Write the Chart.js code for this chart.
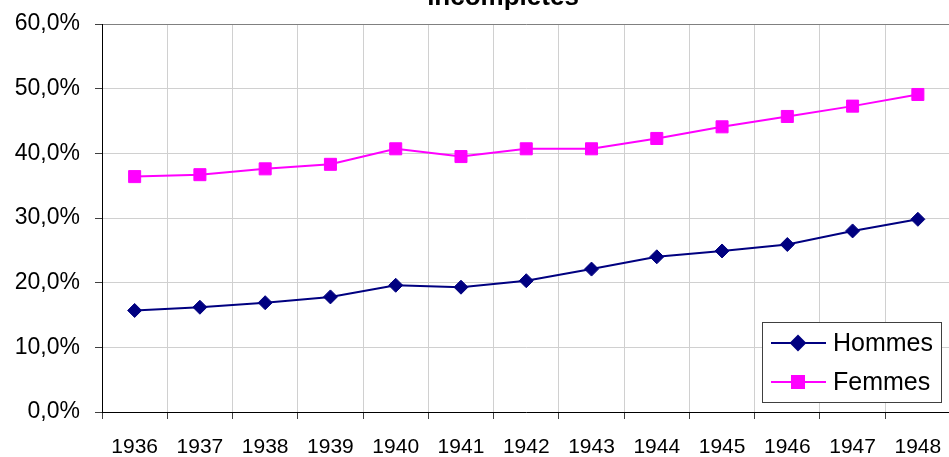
<!DOCTYPE html>
<html>
<head>
<meta charset="utf-8">
<script src="https://cdn.jsdelivr.net/npm/chart.js@4"></script>
<style>
  html, body { margin: 0; padding: 0; background: #fff; overflow: hidden; }
  #wrap { width: 960px; height: 457px; }
</style>
</head>
<body>
<div id="wrap"><canvas id="chart"></canvas></div>
<script>
// data
const years = ['1936', '1937', '1938', '1939', '1940', '1941', '1942', '1943', '1944', '1945', '1946', '1947', '1948'];
const hommes = [15.7, 16.2, 16.9, 17.8, 19.6, 19.3, 20.3, 22.1, 24.0, 24.9, 25.9, 28.0, 29.8];
const femmes = [36.4, 36.7, 37.6, 38.3, 40.7, 39.5, 40.7, 40.7, 42.3, 44.1, 45.7, 47.3, 49.1];
const titleText = 'incomplètes';

// title sits mostly above the top edge, like in the original
const titlePlugin = {
  id: 'cutTitle',
  afterDraw(chart) {
    const ctx = chart.ctx;
    ctx.save();
    ctx.font = 'bold 26px "Liberation Sans", Arial, sans-serif';
    ctx.fillStyle = '#000';
    ctx.textAlign = 'center';
    ctx.textBaseline = 'alphabetic';
    ctx.fillText(titleText, 503, 5);
    ctx.restore();
  }
};

// boxed legend inside the plot, bottom right
const boxLegend = {
  id: 'boxLegend',
  afterDraw(chart) {
    const ctx = chart.ctx;
    const x0 = 762, y0 = 322, w = 179, h = 80;
    ctx.save();
    ctx.fillStyle = '#fff';
    ctx.fillRect(x0, y0, w, h);
    ctx.strokeStyle = '#404040';
    ctx.lineWidth = 1;
    ctx.strokeRect(x0 + 0.5, y0 + 0.5, w, h);
    ctx.font = '25px "Liberation Sans", Arial, sans-serif';
    ctx.textBaseline = 'middle';
    chart.data.datasets.forEach((ds, i) => {
      const y = y0 + 21 + i * 39;
      ctx.strokeStyle = ds.borderColor;
      ctx.lineWidth = 2;
      ctx.beginPath();
      ctx.moveTo(771, y);
      ctx.lineTo(826, y);
      ctx.stroke();
      Chart.helpers.drawPoint(ctx, {
        pointStyle: ds.pointStyle,
        radius: ds.pointRadius,
        rotation: 0,
        borderWidth: 1
      }, 798, y);
      ctx.fillStyle = ds.pointBackgroundColor;
      ctx.strokeStyle = ds.pointBorderColor;
      ctx.fill();
      ctx.fillStyle = '#000';
      ctx.fillText(ds.label, 833, y + 1);
    });
    ctx.restore();
  }
};

new Chart(document.getElementById('chart'), {
  type: 'line',
  data: {
    labels: years,
    datasets: [{
      label: 'Hommes',
      data: hommes,
      borderColor: '#000080',
      backgroundColor: '#000080',
      pointBackgroundColor: '#000080',
      pointBorderColor: '#000080',
      pointStyle: 'rectRot',
      pointRadius: 7,
      pointBorderWidth: 1,
      borderWidth: 2,
      tension: 0
    }, {
      label: 'Femmes',
      data: femmes,
      borderColor: '#ff00ff',
      backgroundColor: '#ff00ff',
      pointBackgroundColor: '#ff00ff',
      pointBorderColor: '#ff00ff',
      pointStyle: 'rect',
      pointRadius: 8.5,
      pointBorderWidth: 1,
      borderWidth: 2,
      tension: 0
    }]
  },
  options: {
    responsive: true,
    maintainAspectRatio: false,
    animation: false,
    layout: { padding: { top: 24, right: 6.5, left: 0, bottom: 0 } },
    plugins: {
      legend: { display: false },
      title: { display: false },
      tooltip: { enabled: false }
    },
    scales: {
      x: {
        offset: true,
        grid: { offset: true, color: '#d0d0d0', tickColor: '#404040', tickLength: 7, drawOnChartArea: true },
        border: { color: '#000', width: 1 },
        ticks: {
          color: '#000',
          padding: 16,
          maxRotation: 0,
          autoSkip: false,
          font: { family: '"Liberation Sans", Arial, sans-serif', size: 21 }
        },
        afterFit(scale) { scale.height = 45; scale.paddingLeft = 0; scale.paddingRight = 0; }
      },
      y: {
        min: 0,
        max: 60,
        ticks: {
          stepSize: 10,
          color: '#000',
          padding: 15,
          font: { family: '"Liberation Sans", Arial, sans-serif', size: 23 },
          callback: v => v.toFixed(1).replace('.', ',') + '%'
        },
        grid: {
          color: ctx => ctx.tick && ctx.tick.value === 60 ? '#808080' : '#d0d0d0',
          tickColor: '#404040',
          tickLength: 7
        },
        border: { color: '#000', width: 1 },
        afterFit(scale) { scale.width = 102; scale.paddingTop = 0; scale.paddingBottom = 0; }
      }
    }
  },
  plugins: [titlePlugin, boxLegend]
});
</script>
</body>
</html>
